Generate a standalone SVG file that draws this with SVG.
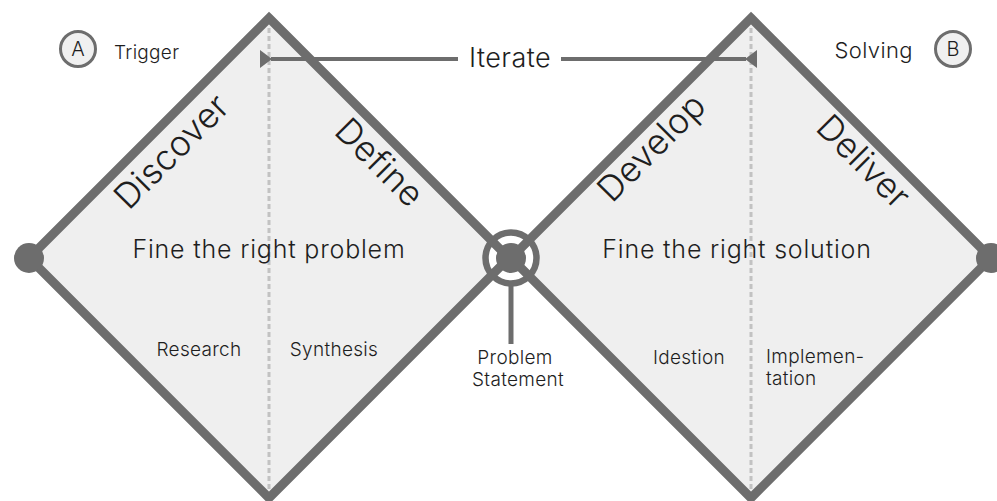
<svg xmlns="http://www.w3.org/2000/svg" width="997" height="501" viewBox="0 0 997 501">
  <defs>
    <style>
      .fill { fill: #efefef; stroke: none; }
      .edge { fill: none; stroke: #6d6d6d; stroke-width: 9; stroke-linejoin: miter; }
      .split { stroke: #c2c2c2; stroke-width: 3; stroke-dasharray: 5 3; }
      .dot { fill: #6d6d6d; }
      .conn { stroke: #6d6d6d; stroke-width: 4; fill: none; }
      .txt { font-family: Inter, "Noto Sans", "Liberation Sans", sans-serif; font-weight: 300; fill: #1e1e1e; }
      .phase { font-size: 35px; letter-spacing: 0.3px; }
      .goal { font-size: 25px; letter-spacing: 0.8px; }
      .sub { font-size: 19px; letter-spacing: 0.3px; }
      .badge { fill: #f0f0f0; stroke: #6d6d6d; stroke-width: 3; }
    </style>
    <marker id="arrow" viewBox="0 0 12 18" refX="1" refY="9" markerWidth="12" markerHeight="18" markerUnits="userSpaceOnUse" orient="auto-start-reverse">
      <path d="M12 0 L0 9 L12 18 Z" fill="#6d6d6d"/>
    </marker>
  </defs>
  <rect width="997" height="501" fill="#ffffff"/>

  <!-- diamond backgrounds -->
  <polygon class="fill" points="269,18 509,258 269,498 29,258"/>
  <polygon class="fill" points="751,18 991,258 751,498 511,258"/>

  <!-- dashed splits inside each diamond -->
  <line class="split" x1="269" y1="28" x2="269" y2="492"/>
  <line class="split" x1="751" y1="28" x2="751" y2="492"/>

  <!-- white ring behind the centre junction -->
  <circle cx="511" cy="258" r="25.5" fill="#ffffff" stroke="#6d6d6d" stroke-width="6.5"/>

  <g id="diamond-problem">
    <polygon class="edge" points="269,18 509,258 269,498 29,258"/>
    <circle class="dot" cx="29" cy="258" r="15"/>
    <text class="txt phase" transform="translate(180,160) rotate(-45)" text-anchor="middle">Discover</text>
    <text class="txt phase" transform="translate(371,171) rotate(45)" text-anchor="middle">Define</text>
    <text class="txt goal" x="269" y="258" text-anchor="middle">Fine the right problem</text>
    <text class="txt sub" x="199" y="356" text-anchor="middle">Research</text>
    <text class="txt sub" x="334" y="356" text-anchor="middle">Synthesis</text>
  </g>

  <g id="diamond-solution">
    <polygon class="edge" points="751,18 991,258 751,498 511,258"/>
    <circle class="dot" cx="991" cy="258" r="15"/>
    <text class="txt phase" transform="translate(660,156) rotate(-45)" text-anchor="middle">Develop</text>
    <text class="txt phase" transform="translate(855,170) rotate(45)" text-anchor="middle">Deliver</text>
    <text class="txt goal" x="737" y="258" text-anchor="middle">Fine the right solution</text>
    <text class="txt sub" x="689" y="364" text-anchor="middle">Idestion</text>
    <text class="txt sub" x="766" y="363">Implemen-</text>
    <text class="txt sub" x="766" y="385">tation</text>
  </g>

  <g id="problem-statement">
    <circle class="dot" cx="511" cy="258" r="15"/>
    <line x1="511" y1="286" x2="511" y2="344" stroke="#6d6d6d" stroke-width="5"/>
    <text class="txt sub" x="515" y="364" text-anchor="middle">Problem</text>
    <text class="txt sub" x="518" y="386" text-anchor="middle">Statement</text>
  </g>

  <g id="trigger">
    <circle class="badge" cx="78" cy="49" r="17.5"/>
    <text class="txt" x="78" y="56" font-size="20" text-anchor="middle">A</text>
    <text class="txt sub" x="114" y="59">Trigger</text>
  </g>

  <g id="solving">
    <circle class="badge" cx="953" cy="49" r="17.5"/>
    <text class="txt" x="953" y="56" font-size="20" text-anchor="middle">B</text>
    <text class="txt" x="913" y="58" font-size="22" letter-spacing="0.4" text-anchor="end">Solving</text>
  </g>

  <g id="connectors">
    <line class="conn" x1="458" y1="59" x2="271" y2="59" marker-end="url(#arrow)"/>
    <line class="conn" x1="561" y1="59" x2="746" y2="59" marker-end="url(#arrow)"/>
    <text class="txt" x="510" y="67" font-size="27" letter-spacing="0.4" text-anchor="middle">Iterate</text>
  </g>
</svg>
